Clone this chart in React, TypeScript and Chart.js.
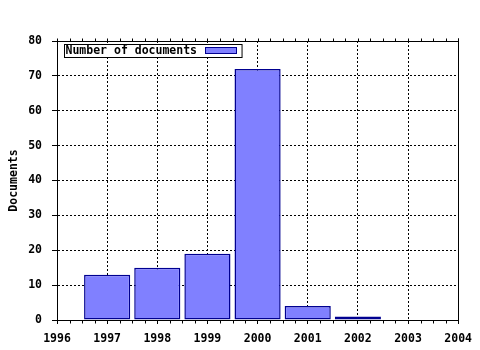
import React, { useEffect, useRef } from "react";
import { Chart, registerables } from "chart.js";

Chart.register(...registerables);

const years = [1997, 1998, 1999, 2000, 2001, 2002];
const documents = [13, 15, 19, 72, 4, 1];
const seriesLabel = "Number of documents";
const yTitle = "Documents";
const xMin = 1996;
const xMax = 2004;
const yMin = 0;
const yMax = 80;

const FONT = "'DejaVu Sans Mono', monospace";
const FS = 11.5;

const framePlugin = {
  id: "frame",
  afterDraw(chart: any) {
    const ctx = chart.ctx;
    const a = chart.chartArea;
    const xs = chart.scales.x;
    ctx.save();
    ctx.strokeStyle = "#000";
    ctx.lineWidth = 1;
    ctx.setLineDash([]);
    const L = Math.round(a.left) + 0.5;
    const R = Math.round(a.right) + 0.5;
    const T = Math.round(a.top) + 0.5;
    const B = Math.round(a.bottom) + 0.5;
    ctx.beginPath();
    ctx.moveTo(L, T);
    ctx.lineTo(R, T);
    ctx.moveTo(R, T - 3);
    ctx.lineTo(R, B);
    ctx.stroke();
    ctx.beginPath();
    for (let v = xMin; v <= xMax + 1e-9; v += 0.25) {
      const px = Math.round(xs.getPixelForValue(v)) + 0.5;
      const major = Math.abs(v - Math.round(v)) < 1e-9;
      ctx.moveTo(px, T);
      ctx.lineTo(px, T - 3);
      if (!major) {
        ctx.moveTo(px, B);
        ctx.lineTo(px, B + 3);
      }
    }
    ctx.stroke();
    // legend
    const lx = Math.round(a.left) + 7.5;
    const ly = T + 3;
    ctx.font = "bold " + FS + "px " + FONT;
    ctx.textBaseline = "middle";
    ctx.textAlign = "left";
    const tw = ctx.measureText(seriesLabel).width;
    const sw = 31;
    const bw = tw + 1 + 8 + sw + 6;
    ctx.fillStyle = "#fff";
    ctx.fillRect(lx, ly, bw, 13);
    ctx.strokeRect(lx, ly, bw, 13);
    ctx.fillStyle = "#000";
    ctx.fillText(seriesLabel, lx + 1, ly + 7);
    const sx = Math.round(lx + 1 + tw + 8) + 0.5;
    ctx.fillStyle = "#8080ff";
    ctx.fillRect(sx, ly + 3, sw, 6);
    ctx.strokeStyle = "#000090";
    ctx.strokeRect(sx, ly + 3, sw, 6);
    ctx.restore();
  },
};

export default function App() {
  const ref = useRef<HTMLCanvasElement | null>(null);
  useEffect(() => {
    document.body.style.margin = "0";
    const canvas = ref.current!;
    const tickFont = { family: FONT, size: FS, weight: "bold" };
    const chart = new Chart(canvas, {
      type: "bar",
      data: {
        datasets: [
          {
            label: seriesLabel,
            data: years.map((y, i) => ({ x: y, y: documents[i] })),
            backgroundColor: "#8080ff",
            borderColor: "#000090",
            borderWidth: 1.5,
            borderSkipped: false,
            barPercentage: 0.92,
            categoryPercentage: 1,
          },
        ],
      },
      options: {
        animation: false,
        responsive: false,
        maintainAspectRatio: false,
        layout: { padding: { top: 41, right: 21, left: 0, bottom: 0 } },
        plugins: { legend: { display: false }, tooltip: { enabled: false } },
        scales: {
          x: {
            type: "linear",
            min: xMin,
            max: xMax,
            offset: false,
            ticks: {
              stepSize: 1,
              color: "#000",
              font: tickFont,
              padding: 8,
              maxRotation: 0,
              callback: (v: any) => String(v),
            },
            grid: {
              color: "#000",
              offset: false,
              tickLength: 4,
              tickBorderDash: [],
              drawOnChartArea: true,
            },
            border: { display: true, color: "#000", width: 1, dash: [2, 2] },
            afterFit: (s: any) => {
              s.height = 30;
            },
          },
          y: {
            min: yMin,
            max: yMax,
            ticks: {
              stepSize: 10,
              color: "#000",
              font: tickFont,
              padding: 10,
            },
            grid: {
              color: "#000",
              tickLength: 5,
              tickBorderDash: [],
            },
            border: { display: true, color: "#000", width: 1, dash: [2, 2] },
            title: {
              display: true,
              text: yTitle,
              color: "#000",
              font: tickFont,
              padding: { top: 7, bottom: 0 },
            },
            afterFit: (s: any) => {
              s.width = 57;
            },
          },
        },
      } as any,
      plugins: [framePlugin],
    });
    return () => chart.destroy();
  }, []);
  return (
    <div style={{ position: "absolute", left: 0, top: 0, width: 480, height: 350, background: "#fff" }}>
      <canvas ref={ref} width={480} height={350} style={{ width: 480, height: 350 }} />
    </div>
  );
}
